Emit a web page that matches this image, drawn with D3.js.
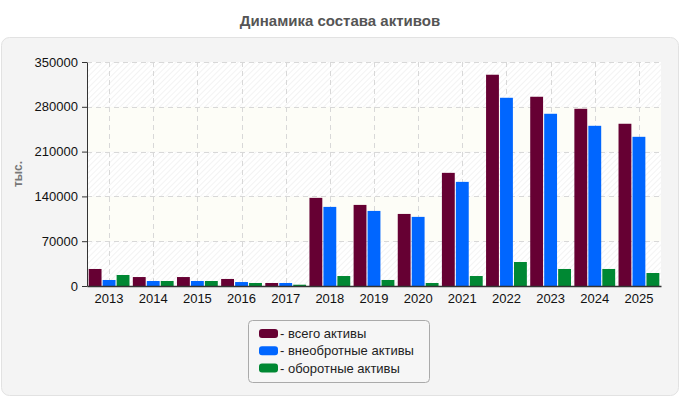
<!DOCTYPE html>
<html>
<head>
<meta charset="utf-8">
<script src="https://cdn.jsdelivr.net/npm/d3@7"></script>
<style>
  body { margin: 0; background: #fff; font-family: "Liberation Sans", Arial, sans-serif; }
  svg { display: block; }
</style>
</head>
<body>
<svg id="chart" width="680" height="400"></svg>
<script>
// chart data
const years = ["2013","2014","2015","2016","2017","2018","2019","2020","2021","2022","2023","2024","2025"];
const totalAssets   = [26600, 14000, 14000, 11000, 4700, 137700, 126700, 112600, 176800, 330100, 295700, 276900, 253500];
const fixedAssets   = [9400, 7800, 7800, 6200, 4700, 123600, 117300, 108000, 162700, 294100, 269100, 250300, 233100];
const currentAssets = [17200, 7800, 7800, 4700, 2000, 15600, 9400, 4700, 15600, 37500, 26600, 26600, 20300];
const seriesNames = ["всего активы", "внеобротные активы", "оборотные активы"];
const seriesColors = ["#660033", "#0066ff", "#008833"];
const yTicks = [0, 70000, 140000, 210000, 280000, 350000];

const svg = d3.select("#chart");
const m = { left: 87, right: 661, top: 62, bottom: 286 };

// title
svg.append("text")
  .attr("x", 340).attr("y", 26)
  .attr("text-anchor", "middle")
  .style("font-size", "15px").style("font-weight", "bold").style("fill", "#555")
  .text("Динамика состава активов");

// outer panel
svg.append("rect")
  .attr("x", 1.5).attr("y", 37.5).attr("width", 677).attr("height", 358).attr("rx", 8)
  .attr("fill", "#f4f4f4").attr("stroke", "#e2e2e2");

// hatch pattern
const defs = svg.append("defs");
const pat = defs.append("pattern")
  .attr("id", "hatch").attr("patternUnits", "userSpaceOnUse")
  .attr("width", 4).attr("height", 4)
  .attr("patternTransform", "rotate(45)");
pat.append("rect").attr("width", 4).attr("height", 4).attr("fill", "#fff");
pat.append("line").attr("x1", 0).attr("y1", 0).attr("x2", 0).attr("y2", 4)
  .attr("stroke", "#ececec").attr("stroke-width", 1.2);

const x = d3.scaleBand().domain(years).range([m.left, m.right]);
const y = d3.scaleLinear().domain([0, 350000]).range([m.bottom, m.top]);

// plot background bands
const bands = svg.append("g");
for (let i = 0; i < yTicks.length - 1; i++) {
  bands.append("rect")
    .attr("x", m.left).attr("width", m.right - m.left)
    .attr("y", y(yTicks[i + 1])).attr("height", y(yTicks[i]) - y(yTicks[i + 1]))
    .attr("fill", i % 2 === 0 ? "url(#hatch)" : "#fdfdf7");
}

// grid lines
const grid = svg.append("g").attr("stroke", "#d8d8d8").attr("stroke-dasharray", "5,4");
yTicks.slice(1).forEach(t => {
  grid.append("line").attr("x1", m.left).attr("x2", m.right)
    .attr("y1", Math.round(y(t)) + 0.5).attr("y2", Math.round(y(t)) + 0.5);
});
years.forEach(yr => {
  const cx = Math.round(x(yr) + x.bandwidth() / 2) + 0.5;
  grid.append("line").attr("x1", cx).attr("x2", cx).attr("y1", m.top).attr("y2", m.bottom);
});

// bars
const data = [totalAssets, fixedAssets, currentAssets];
const inner = d3.scaleBand().domain([0, 1, 2])
  .range([0, x.bandwidth()]).paddingInner(0.08).paddingOuter(0.12);
data.forEach((vals, s) => {
  svg.append("g").selectAll("rect")
    .data(vals)
    .join("rect")
    .attr("x", (d, i) => x(years[i]) + inner(s))
    .attr("width", inner.bandwidth())
    .attr("y", d => y(d))
    .attr("height", d => y(0) - y(d))
    .attr("fill", seriesColors[s]);
});

// axes
const yAxis = svg.append("g")
  .attr("transform", `translate(${m.left},0)`)
  .call(d3.axisLeft(y).tickValues(yTicks).tickSize(5).tickSizeOuter(0).tickFormat(d3.format("d")));
yAxis.select(".domain").attr("stroke", "#333");
yAxis.selectAll(".tick line").attr("stroke", "#333");
yAxis.selectAll("text").style("font-size", "13px").style("fill", "#111")
  .style("font-family", "Liberation Sans, Arial, sans-serif").attr("dx", "-1");

const xAxis = svg.append("g")
  .attr("transform", `translate(0,${m.bottom})`)
  .call(d3.axisBottom(x).tickSize(0).tickSizeOuter(0));
xAxis.select(".domain").attr("stroke", "#333").attr("stroke-width", 1.5);
xAxis.selectAll("text").style("font-size", "13px").style("fill", "#111")
  .style("font-family", "Liberation Sans, Arial, sans-serif").attr("dy", "1.05em");

// y label
svg.append("text")
  .attr("transform", "translate(22,174) rotate(-90)")
  .attr("text-anchor", "middle")
  .style("font-size", "12px").style("font-weight", "bold").style("fill", "#777")
  .text("тыс.");

// legend
const lg = svg.append("g");
lg.append("rect")
  .attr("x", 248.5).attr("y", 320.5).attr("width", 181).attr("height", 62).attr("rx", 4)
  .attr("fill", "#f6f6f6").attr("stroke", "#aaa");
seriesNames.forEach((name, i) => {
  const ry = 329 + i * 17.3;
  lg.append("rect")
    .attr("x", 259).attr("y", ry).attr("width", 19).attr("height", 9).attr("rx", 3)
    .attr("fill", seriesColors[i]);
  lg.append("text")
    .attr("x", 280).attr("y", ry + 9)
    .style("font-size", "13px").style("fill", "#222")
    .text("- " + name);
});
</script>
</body>
</html>
